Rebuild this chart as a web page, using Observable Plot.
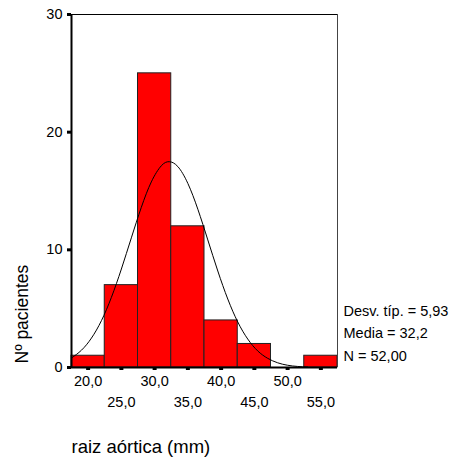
<!DOCTYPE html>
<html><head><meta charset="utf-8">
<script src="https://cdn.jsdelivr.net/npm/d3@7"></script>
<script src="https://cdn.jsdelivr.net/npm/@observablehq/plot@0.6"></script>
<style>
body{margin:0;background:#fff;}
#chart svg{display:block;}
</style>
</head><body><div id="chart"></div>
<script>
const binLow = [17.5, 22.5, 27.5, 32.5, 37.5, 42.5, 47.5, 52.5];
const binHigh = [22.5, 27.5, 32.5, 37.5, 42.5, 47.5, 52.5, 57.5];
const counts = [1, 7, 25, 12, 4, 2, 0, 1];
const curveX = [17.5, 19, 20.5, 22, 23.5, 25, 26.5, 28, 29.5, 31, 32.2, 33.5, 35, 36.5, 38, 39.5, 41, 42.5, 44, 45.5, 47, 48.5, 50, 51.5, 53];
const curveY = [0.81, 1.47, 2.50, 3.98, 5.96, 8.37, 11.02, 13.61, 15.77, 17.14, 17.49, 17.07, 15.64, 13.45, 10.84, 8.20, 5.82, 3.87, 2.42, 1.41, 0.78, 0.40, 0.19, 0.09, 0.04];
const xTicksTop = [20, 30, 40, 50];
const xTicksBottom = [25, 35, 45, 55];
const yTicks = [0, 10, 20, 30];
const xDomain = [17.5, 57.5];
const yDomain = [0, 30];
const stats = ["Desv. típ. = 5,93", "Media = 32,2", "N = 52,00"];
const xTitle = "raiz aórtica (mm)";
const yTitle = "Nº pacientes";

const bars = counts.map((c, i) => ({x1: binLow[i], x2: binHigh[i], y: c})).filter(d => d.y > 0);
const curve = curveX.map((x, i) => ({x, y: curveY[i]}));
const fmt = d => d.toFixed(1).replace(".", ",");
const font = "'Liberation Sans', Arial, sans-serif";

const chart = Plot.plot({
  width: 451,
  height: 459,
  marginLeft: 71,
  marginRight: 114,
  marginTop: 14,
  marginBottom: 92,
  style: {fontFamily: font, fontSize: "14.5px", color: "#000", background: "#fff"},
  x: {domain: xDomain},
  y: {domain: yDomain},
  marks: [
    Plot.rectY(bars, {x1: "x1", x2: "x2", y: "y", fill: "#ff0000", stroke: "#222", strokeWidth: 1}),
    Plot.line(curve, {x: "x", y: "y", curve: "natural", stroke: "#000", strokeWidth: 1}),
    Plot.ruleY([yDomain[1]], {stroke: "#000", strokeWidth: 1}),
    Plot.ruleX([xDomain[1]], {stroke: "#444", strokeWidth: 1}),
    Plot.ruleX([xDomain[0]], {stroke: "#000", strokeWidth: 2}),
    Plot.ruleY([yDomain[0]], {stroke: "#000", strokeWidth: 2}),
    Plot.axisY(yTicks, {tickSize: 4, strokeWidth: 3, tickPadding: 5, fontSize: 14.5, label: null}),
    Plot.axisX([...xTicksTop, ...xTicksBottom], {tickSize: 3, strokeWidth: 4, text: null, label: null}),
    Plot.axisX(xTicksTop, {tickSize: 0, tickPadding: 8, tickFormat: fmt, fontSize: 14.5, label: null}),
    Plot.axisX(xTicksBottom, {tickSize: 0, tickPadding: 29, tickFormat: fmt, fontSize: 14.5, label: null}),
    Plot.text([xTitle], {frameAnchor: "bottom-left", textAnchor: "start", lineAnchor: "bottom", dy: 85, dx: 0, fontSize: 18.5, text: d => d}),
    Plot.text([yTitle], {frameAnchor: "bottom-left", textAnchor: "start", lineAnchor: "bottom", rotate: -90, dx: -44, dy: -4, fontSize: 17.5, text: d => d}),
    Plot.text([stats[0]], {frameAnchor: "bottom-right", textAnchor: "start", lineAnchor: "middle", dx: 6, dy: -56, fontSize: 14.5, text: d => d}),
    Plot.text([stats[1]], {frameAnchor: "bottom-right", textAnchor: "start", lineAnchor: "middle", dx: 6, dy: -34, fontSize: 14.5, text: d => d}),
    Plot.text([stats[2]], {frameAnchor: "bottom-right", textAnchor: "start", lineAnchor: "middle", dx: 6, dy: -11, fontSize: 14.5, text: d => d})
  ]
});
document.getElementById("chart").appendChild(chart);
</script>
</body></html>
